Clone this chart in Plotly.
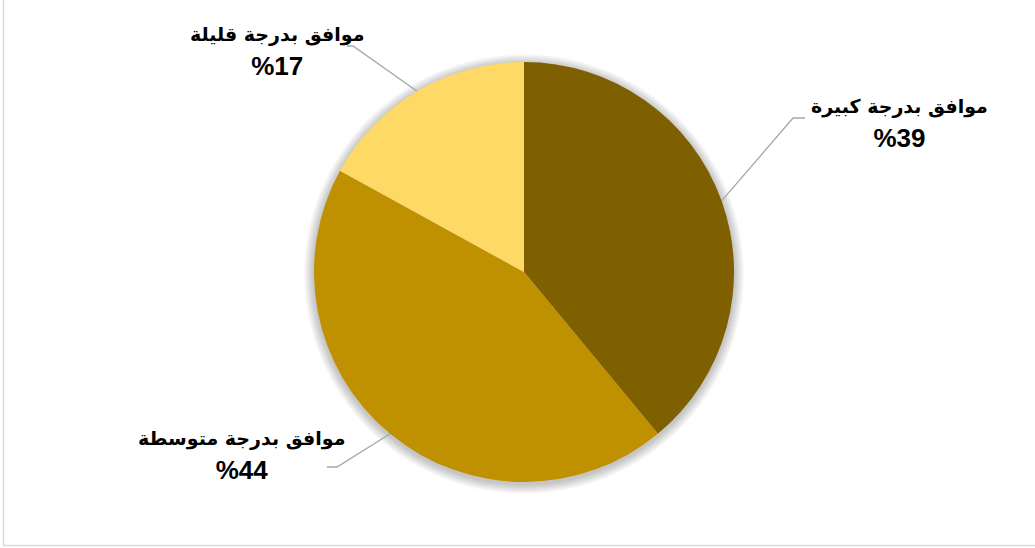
import math
import plotly.graph_objects as go

# Survey answer categories and their shares (%)
categories = ["موافق بدرجة كبيرة", "موافق بدرجة متوسطة", "موافق بدرجة قليلة"]
shares = [39, 44, 17]
colors = ["#7F6000", "#BF9000", "#FFD966"]

# Canvas and pie geometry (pixels)
W, H = 1035, 548
CX, CY, R = 524, 272, 210

# Label block centres and leader-line elbow/end points (pixels)
label_xy = [(899, 124), (241, 456), (277, 52)]
elbow_xy = [(793, 118), (337, 467), (353, 46)]
end_xy = [(805, 118), (327, 467), (347, 46)]

fig = go.Figure()

fig.add_trace(go.Pie(
    labels=categories,
    values=shares,
    sort=False,
    direction="clockwise",
    rotation=0,
    marker=dict(colors=colors, line=dict(width=0)),
    textinfo="none",
    hoverinfo="skip",
    showlegend=False,
    domain=dict(x=[(CX - R) / W, (CX + R) / W],
                y=[1 - (CY + R) / H, 1 - (CY - R) / H]),
))

# Leader lines start on the rim at each slice's mid-angle
total = sum(shares)
cum = 0
for i, v in enumerate(shares):
    mid = (cum + v / 2) / total * 2 * math.pi
    cum += v
    sx = CX + R * math.sin(mid)
    sy = CY - R * math.cos(mid)
    fig.add_trace(go.Scatter(
        x=[sx, elbow_xy[i][0], end_xy[i][0]],
        y=[sy, elbow_xy[i][1], end_xy[i][1]],
        mode="lines",
        line=dict(color="#A6A6A6", width=1.3),
        hoverinfo="skip",
        showlegend=False,
    ))
    fig.add_annotation(
        x=label_xy[i][0], y=label_xy[i][1],
        xref="x", yref="y",
        text=(f"<span style='font-family:DejaVu Sans;font-size:19px'>{categories[i]}</span>"
              f"<br>%{v}"),
        showarrow=False,
        xanchor="center", yanchor="middle",
        align="center",
        font=dict(family="Liberation Sans, Arial", size=26, color="#000000", weight="bold"),
    )

# Soft shadow around the pie
shapes = []
for k in range(1, 11):
    shapes.append(dict(
        type="circle", xref="x", yref="y", layer="below",
        x0=CX - R - k, x1=CX + R + k,
        y0=CY + 2 - R - k, y1=CY + 2 + R + k,
        fillcolor="rgba(0,0,0,0.022)", line=dict(width=0),
    ))
# Chart-area frame
shapes.append(dict(
    type="rect", xref="paper", yref="paper", layer="below",
    x0=3.5 / W, x1=1 + 2 / W, y0=2.5 / H, y1=1 + 2 / H,
    line=dict(color="#D9D9D9", width=1.5), fillcolor="rgba(0,0,0,0)",
))

fig.update_layout(
    width=W, height=H,
    margin=dict(l=0, r=0, t=0, b=0),
    paper_bgcolor="#FFFFFF",
    plot_bgcolor="rgba(0,0,0,0)",
    xaxis=dict(range=[0, W], visible=False, fixedrange=True, domain=[0, 1]),
    yaxis=dict(range=[H, 0], visible=False, fixedrange=True, domain=[0, 1]),
    shapes=shapes,
    showlegend=False,
)

fig.write_html("out.html")
